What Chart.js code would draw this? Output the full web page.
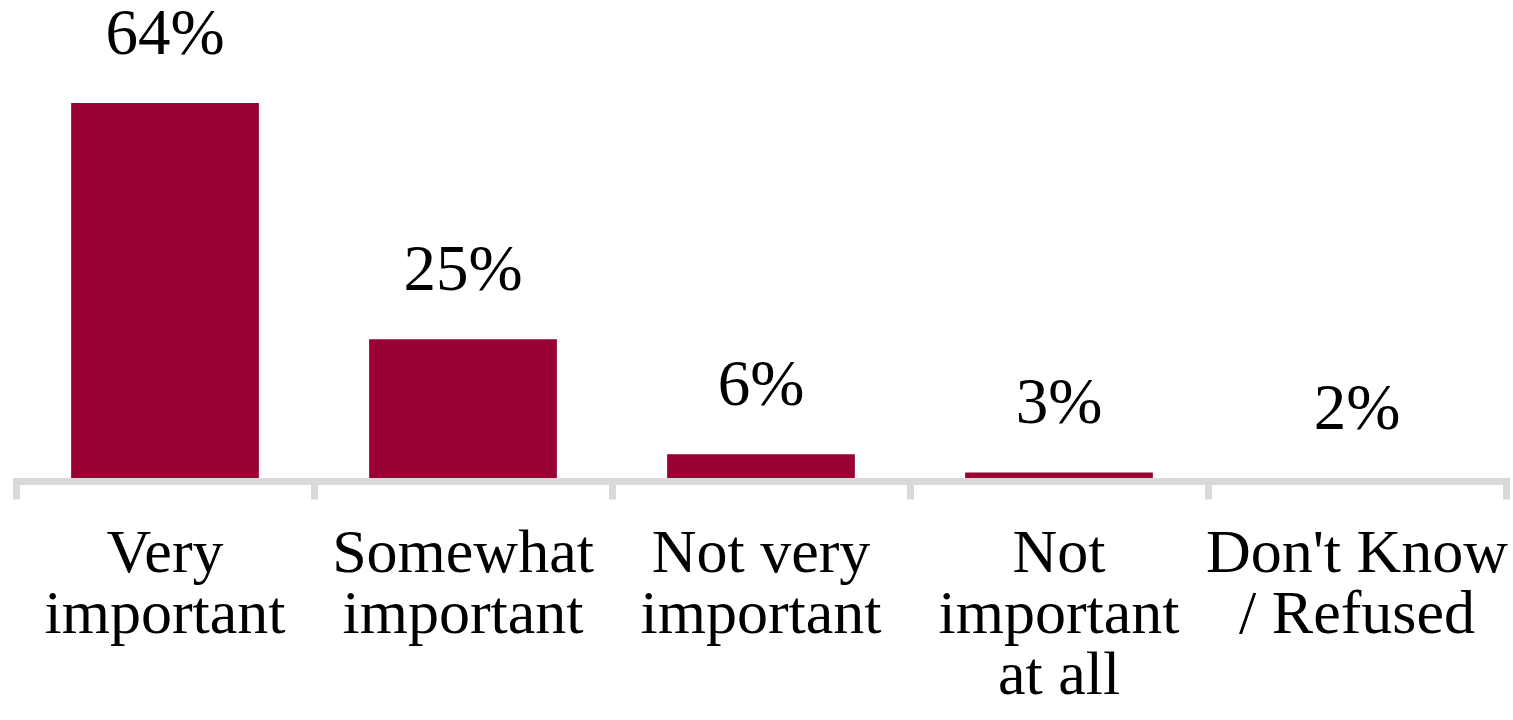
<!DOCTYPE html>
<html>
<head>
<meta charset="utf-8">
<script src="https://cdn.jsdelivr.net/npm/chart.js@4"></script>
<style>
  html, body { margin: 0; padding: 0; background: #fff; }
  #wrap { width: 1513px; height: 720px; position: relative; }
</style>
</head>
<body>
<div id="wrap"><canvas id="myChart"></canvas></div>
<script>
// Survey answers and their shares (%)
var categories = [
    ["Very", "important"],
    ["Somewhat", "important"],
    ["Not very", "important"],
    ["Not", "important", "at all"],
    ["Don't Know", "/ Refused"]
];
var shares = [64, 25, 6, 3, 2];
var valueLabels = ["64%", "25%", "6%", "3%", "2%"];

var serif = "'Liberation Serif', 'Times New Roman', serif";

// writes the percentage above each bar
var barValues = {
    id: 'barValues',
    afterDatasetsDraw: function (chart) {
        var ctx = chart.ctx;
        var meta = chart.getDatasetMeta(0);
        ctx.save();
        ctx.font = '65px ' + serif;
        ctx.fillStyle = '#000';
        ctx.textAlign = 'center';
        ctx.textBaseline = 'alphabetic';
        meta.data.forEach(function (bar, i) {
            ctx.fillText(valueLabels[i], bar.x, bar.y - 49);
        });
        ctx.restore();
    }
};

var ctx = document.getElementById('myChart').getContext('2d');
var chart = new Chart(ctx, {
    type: 'bar',
    data: {
        labels: categories,
        datasets: [{
            data: shares,
            backgroundColor: '#990033',
            borderWidth: 0,
            barPercentage: 0.63,
            categoryPercentage: 1
        }]
    },
    plugins: [barValues],
    options: {
        responsive: true,
        maintainAspectRatio: false,
        animation: false,
        layout: { padding: { top: 6, left: 16, right: 7, bottom: 0 } },
        plugins: {
            legend: { display: false },
            tooltip: { enabled: false }
        },
        scales: {
            y: {
                display: false,
                min: 1.5,
                max: 80
            },
            x: {
                border: { display: true, color: '#d9d9d9', width: 7, z: 1 },
                grid: {
                    offset: true,
                    drawOnChartArea: false,
                    drawTicks: true,
                    tickLength: 18,
                    lineWidth: 7,
                    color: '#d9d9d9',
                    tickColor: '#d9d9d9',
                    z: 1
                },
                ticks: {
                    color: '#000',
                    padding: 26,
                    maxRotation: 0,
                    autoSkip: false,
                    font: { family: serif, size: 62, lineHeight: 61 / 62 }
                },
                afterFit: function (scale) {
                    scale.height = 238.5;
                    scale.paddingLeft = 0;
                    scale.paddingRight = 0;
                }
            }
        }
    }
});
</script>
</body>
</html>
